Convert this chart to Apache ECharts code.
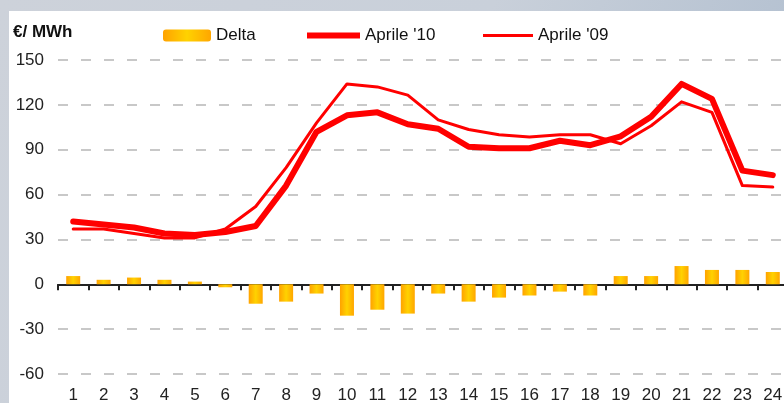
<!DOCTYPE html>
<html lang="it">
<head>
    <meta charset="UTF-8">
    <title>Prezzi orari Aprile</title>
    <script src="https://cdn.jsdelivr.net/npm/echarts@6/dist/echarts.min.js"></script>
    <style>
        html, body { margin: 0; padding: 0; }
        #chart { width: 784px; height: 403px; }
    </style>
</head>
<body>
<div id="chart"></div>
<script>
    // ore del giorno
    var hours = ['1','2','3','4','5','6','7','8','9','10','11','12','13','14','15','16','17','18','19','20','21','22','23','24'];
    // €/MWh
    var aprile10 = [42, 40, 38, 34, 33, 35, 39, 66, 102, 113, 115, 107, 104, 92, 91, 91, 96, 93, 99, 112, 134, 124, 76, 73];
    var aprile09 = [37, 37, 34, 31, 31, 37, 52, 78, 108, 134, 132, 126.5, 110, 103.5, 100, 98.5, 100, 100, 94, 106, 122, 115, 66, 65];
    var delta = [5.5, 3, 4.5, 3, 1.8, -2, -13, -11.6, -6.2, -21, -17, -19.6, -6.2, -11.6, -8.9, -7.5, -4.9, -7.5, 5.5, 5.5, 12.2, 9.6, 9.6, 8.2];
    var yTicks = { min: -60, max: 150, step: 30 };

    var font = 'Liberation Sans, Arial, sans-serif';
    var barColor = new echarts.graphic.LinearGradient(0, 0, 1, 0, [
        { offset: 0, color: '#ffa200' },
        { offset: 0.5, color: '#ffd200' },
        { offset: 1, color: '#ffa600' }
    ]);
    var legendText = { fontFamily: font, fontSize: 17, color: '#111' };

    var chart = echarts.init(document.getElementById('chart'));
    var option = {
        backgroundColor: new echarts.graphic.LinearGradient(0, 0, 1, 1, [
            { offset: 0, color: '#cdd2da' },
            { offset: 0.5, color: '#c9d0da' },
            { offset: 1, color: '#a9b9cc' }
        ]),
        graphic: [{
            type: 'rect',
            z: -10,
            shape: { x: 9, y: 11, width: 775, height: 392 },
            style: { fill: '#ffffff' },
            silent: true
        }],
        title: {
            text: '€/ MWh',
            left: 13,
            top: 24,
            padding: 0,
            textStyle: { fontFamily: font, fontSize: 17, fontWeight: 'bold', color: '#111' }
        },
        legend: [{
            data: ['Delta'],
            left: 163, top: 27, padding: 0,
            itemWidth: 48, itemHeight: 12,
            textStyle: legendText
        }, {
            data: [{ name: 'Aprile \'10', icon: 'rect' }],
            left: 307, top: 27, padding: 0,
            itemWidth: 53, itemHeight: 6,
            textStyle: legendText
        }, {
            data: [{ name: 'Aprile \'09', icon: 'rect' }],
            left: 483, top: 27, padding: 0,
            itemWidth: 50, itemHeight: 3,
            textStyle: legendText
        }],
        grid: { left: 58, top: 60, width: 730, bottom: 29, outerBoundsMode: 'none' },
        xAxis: [{
            // etichette delle ore in basso
            type: 'category',
            data: hours,
            position: 'bottom',
            axisLine: { show: false, onZero: false },
            axisTick: { show: false },
            axisLabel: { margin: 13, fontFamily: font, fontSize: 17, color: '#222', interval: 0 },
            splitLine: { show: false }
        }, {
            // linea dello zero con le tacche
            type: 'category',
            data: hours,
            position: 'bottom',
            axisLine: { onZero: true, lineStyle: { color: '#222', width: 2 } },
            axisTick: { show: true, length: 6, lineStyle: { color: '#222', width: 2 } },
            axisLabel: { show: false },
            splitLine: { show: false }
        }],
        yAxis: {
            type: 'value',
            min: yTicks.min,
            max: yTicks.max,
            interval: yTicks.step,
            axisLine: { show: false },
            axisTick: { show: false },
            axisLabel: { margin: 14, fontFamily: font, fontSize: 17, color: '#222' },
            splitLine: { show: true, lineStyle: { color: '#c8c8c8', width: 2, type: [10, 13] } }
        },
        series: [{
            name: 'Delta',
            type: 'bar',
            data: delta,
            barWidth: 14,
            z: 1,
            itemStyle: { color: barColor }
        }, {
            name: 'Aprile \'10',
            type: 'line',
            data: aprile10,
            symbol: 'none',
            z: 4,
            lineStyle: { color: '#ff0000', width: 6, cap: 'round', join: 'round' },
            itemStyle: { color: '#ff0000' }
        }, {
            name: 'Aprile \'09',
            type: 'line',
            data: aprile09,
            symbol: 'none',
            z: 3,
            lineStyle: { color: '#ff0000', width: 3, cap: 'round', join: 'round' },
            itemStyle: { color: '#ff0000' }
        }],
        animation: false
    };
    chart.setOption(option);
</script>
</body>
</html>
